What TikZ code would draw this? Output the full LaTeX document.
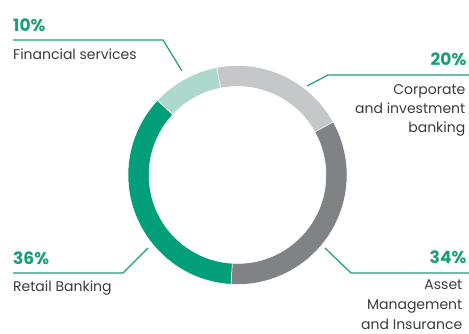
\documentclass[tikz,border=0pt]{standalone}
\usepackage{fontspec}
\setmainfont{Poppins}
\definecolor{lgray}{HTML}{C6C7C9}
\definecolor{dgray}{HTML}{808285}
\definecolor{rgreen}{HTML}{009E79}
\definecolor{lgreen}{HTML}{ADD9CC}
\definecolor{pctgreen}{HTML}{1A9E7B}
\definecolor{txtgray}{HTML}{3C3C3B}
\begin{document}
\begin{tikzpicture}[x=1pt,y=-1pt,
  pct/.style={font=\fontsize{17}{17}\selectfont\bfseries, text=pctgreen, inner sep=0pt},
  lbl/.style={font=\fontsize{14}{14}\selectfont, text=txtgray, inner sep=0pt},
  conn/.style={draw=pctgreen, line width=1.2pt},
  seg/.style={draw=white, line width=0.5pt}]
\useasboundingbox (0,0) rectangle (469,334);
\fill[white] (0,0) rectangle (469,334);
% ring
\begin{scope}[shift={(237.5,175)}]
  \def\Ro{109.5pt}\def\Ri{88.5pt}
  \filldraw[seg, fill=lgray] (101:\Ro) arc[start angle=101, end angle=29, radius=\Ro] -- (29:\Ri) arc[start angle=29, end angle=101, radius=\Ri] -- cycle;
  \filldraw[seg, fill=dgray] (29:\Ro) arc[start angle=29, end angle=-93.4, radius=\Ro] -- (-93.4:\Ri) arc[start angle=-93.4, end angle=29, radius=\Ri] -- cycle;
  \filldraw[seg, fill=rgreen] (-93.4:\Ro) arc[start angle=-93.4, end angle=-223, radius=\Ro] -- (-223:\Ri) arc[start angle=-223, end angle=-93.4, radius=\Ri] -- cycle;
  \filldraw[seg, fill=lgreen] (137:\Ro) arc[start angle=137, end angle=101, radius=\Ro] -- (101:\Ri) arc[start angle=101, end angle=137, radius=\Ri] -- cycle;
\end{scope}
% 10%
\node[pct, anchor=base west] (p10) at (13,32) {10\%};
\node[lbl, anchor=base west] (t10) at (13,59.3) {Financial services};
\coordinate (a10) at (13,40);
\coordinate (b10) at (163,40);
\coordinate (c10) at (182,71);
\draw[conn] (a10) -- (b10) -- (c10);
% 20%
\node[pct, anchor=base east] (p20) at (466.5,66) {20\%};
\node[lbl, anchor=base east] (t20a) at (465.5,95) {Corporate};
\node[lbl, anchor=base east] (t20b) at (465.5,114) {and investment};
\node[lbl, anchor=base east] (t20c) at (465.5,133) {banking};
\coordinate (a20) at (469,75);
\coordinate (b20) at (328,75);
\coordinate (c20) at (307,86);
\draw[conn] (a20) -- (b20) -- (c20);
% 36%
\node[pct, anchor=base west] (p36) at (13,265) {36\%};
\node[lbl, anchor=base west] (t36) at (13,291.5) {Retail Banking};
\coordinate (a36) at (13,273);
\coordinate (b36) at (123,273);
\coordinate (c36) at (148,248);
\draw[conn] (a36) -- (b36) -- (c36);
% 34%
\node[pct, anchor=base east] (p34) at (466.5,263) {34\%};
\node[lbl, anchor=base east] (t34a) at (462.5,289.5) {Asset};
\node[lbl, anchor=base east] (t34b) at (462.5,309.5) {Management};
\node[lbl, anchor=base east] (t34c) at (462.5,329.5) {and Insurance};
\coordinate (a34) at (469,273);
\coordinate (b34) at (351,273);
\coordinate (c34) at (325,248);
\draw[conn] (a34) -- (b34) -- (c34);
\end{tikzpicture}
\end{document}
